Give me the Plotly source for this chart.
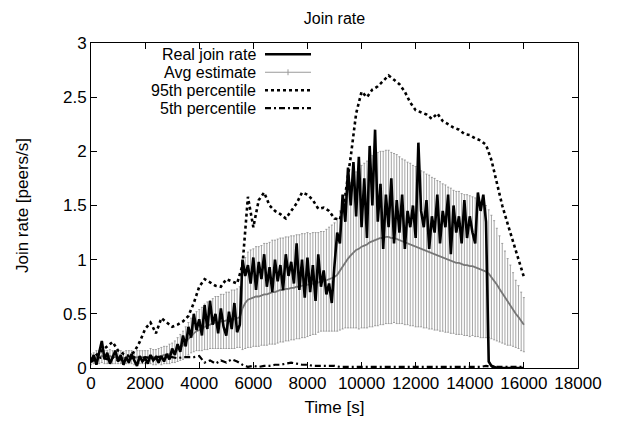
import plotly.graph_objects as go

# ---------------- data ----------------
# Real join rate, sampled every 100 s
real_t = [i * 100 for i in range(161)]
real_v = [
    0.05, 0.12, 0.03, 0.15, 0.25, 0.08, 0.14, 0.04, 0.10, 0.16,
    0.06, 0.12, 0.03, 0.10, 0.05, 0.13, 0.07, 0.02, 0.11, 0.06,
    0.09, 0.04, 0.12, 0.07, 0.10, 0.05, 0.11, 0.06, 0.13, 0.08,
    0.18, 0.12, 0.22, 0.15, 0.30, 0.20, 0.38, 0.28, 0.50, 0.35,
    0.45, 0.30, 0.58, 0.36, 0.62, 0.40, 0.50, 0.32, 0.55, 0.38,
    0.30, 0.52, 0.36, 0.60, 0.33, 0.40, 1.00, 0.85, 0.95, 0.78,
    1.02, 0.72, 0.98, 0.82, 1.05, 0.75, 0.93, 0.70, 1.00, 0.80,
    0.95, 0.72, 1.05, 0.85, 0.98, 0.78, 1.15, 0.72, 1.00, 0.65,
    1.02, 0.70, 0.95, 0.62, 1.05, 0.75, 0.90, 0.68, 0.78, 0.60,
    0.95, 1.25, 1.15, 1.60, 1.35, 1.85, 1.50, 1.90, 1.40, 1.95,
    1.30, 1.75, 1.20, 2.05, 1.50, 2.20, 1.35, 1.70, 1.10, 1.60,
    1.30, 1.75, 1.15, 1.55, 1.25, 1.60, 1.10, 1.45, 1.30, 1.50,
    1.20, 2.08, 1.45, 1.30, 1.55, 1.10, 1.40, 1.25, 1.60, 1.15,
    1.45, 1.30, 1.60, 1.05, 1.50, 1.25, 1.40, 1.15, 1.55, 1.20,
    1.40, 1.25, 1.15, 1.62, 1.45, 1.60, 1.35, 0.06, 0.02, 0.01,
    0.00, 0.00, 0.00, 0.00, 0.00, 0.00, 0.00, 0.00, 0.00, 0.00,
    0.00,
]

# Average estimate and its error half-width, every 100 s
avg_t = [i * 100 for i in range(161)]
avg_v = [
    0.08, 0.09, 0.10, 0.10, 0.11, 0.10, 0.10, 0.11, 0.10, 0.10,
    0.10, 0.10, 0.09, 0.10, 0.10, 0.10, 0.09, 0.10, 0.10, 0.10,
    0.10, 0.10, 0.11, 0.10, 0.10, 0.11, 0.11, 0.12, 0.12, 0.13,
    0.14, 0.15, 0.17, 0.19, 0.21, 0.24, 0.27, 0.30, 0.32, 0.34,
    0.35, 0.36, 0.38, 0.39, 0.40, 0.41, 0.42, 0.42, 0.43, 0.43,
    0.44, 0.44, 0.45, 0.45, 0.46, 0.47, 0.55, 0.60, 0.63, 0.64,
    0.65, 0.66, 0.66, 0.67, 0.68, 0.68, 0.69, 0.70, 0.70, 0.71,
    0.72, 0.72, 0.73, 0.73, 0.74, 0.74, 0.75, 0.75, 0.76, 0.76,
    0.77, 0.77, 0.78, 0.78, 0.79, 0.80, 0.80, 0.81, 0.82, 0.83,
    0.84, 0.86, 0.90, 0.94, 0.98, 1.01, 1.04, 1.07, 1.09, 1.10,
    1.12, 1.13, 1.14, 1.16, 1.17, 1.18, 1.19, 1.20, 1.20, 1.21,
    1.21, 1.20, 1.20, 1.19, 1.18, 1.17, 1.16, 1.15, 1.14, 1.13,
    1.12, 1.11, 1.10, 1.09, 1.08, 1.07, 1.06, 1.05, 1.04, 1.03,
    1.02, 1.01, 1.00, 0.99, 0.98, 0.97, 0.97, 0.96, 0.95, 0.95,
    0.94, 0.94, 0.93, 0.92, 0.91, 0.90, 0.89, 0.87, 0.84, 0.81,
    0.77, 0.73, 0.69, 0.65, 0.61, 0.58, 0.54, 0.50, 0.47, 0.43,
    0.40,
]
avg_err = [
    0.05, 0.05, 0.06, 0.06, 0.06, 0.06, 0.06, 0.06, 0.06, 0.06,
    0.06, 0.06, 0.06, 0.06, 0.06, 0.06, 0.06, 0.06, 0.06, 0.06,
    0.06, 0.06, 0.07, 0.07, 0.07, 0.07, 0.08, 0.08, 0.08, 0.09,
    0.09, 0.10, 0.11, 0.12, 0.13, 0.14, 0.15, 0.16, 0.17, 0.18,
    0.19, 0.20, 0.21, 0.22, 0.22, 0.23, 0.24, 0.24, 0.25, 0.25,
    0.26, 0.26, 0.27, 0.27, 0.27, 0.28, 0.38, 0.42, 0.44, 0.45,
    0.45, 0.46, 0.46, 0.46, 0.47, 0.47, 0.47, 0.48, 0.48, 0.48,
    0.48, 0.48, 0.48, 0.48, 0.48, 0.48, 0.48, 0.48, 0.48, 0.48,
    0.48, 0.47, 0.47, 0.47, 0.46, 0.46, 0.46, 0.47, 0.48, 0.49,
    0.50, 0.52, 0.55, 0.58, 0.61, 0.64, 0.67, 0.70, 0.72, 0.74,
    0.75, 0.76, 0.77, 0.78, 0.79, 0.79, 0.80, 0.80, 0.80, 0.80,
    0.80, 0.79, 0.78, 0.78, 0.77, 0.76, 0.76, 0.75, 0.75, 0.74,
    0.74, 0.73, 0.72, 0.72, 0.71, 0.71, 0.70, 0.70, 0.69, 0.69,
    0.68, 0.68, 0.67, 0.67, 0.66, 0.66, 0.66, 0.65, 0.65, 0.65,
    0.65, 0.64, 0.64, 0.63, 0.63, 0.62, 0.61, 0.59, 0.57, 0.55,
    0.52, 0.49, 0.46, 0.43, 0.40, 0.37, 0.34, 0.31, 0.29, 0.27,
    0.25,
]

# Percentiles, every 200 s
pct_t = [i * 200 for i in range(81)]
p95_v = [
    0.08, 0.12, 0.16, 0.20, 0.24, 0.16, 0.13, 0.11, 0.15, 0.24,
    0.36, 0.42, 0.32, 0.46, 0.42, 0.38, 0.40, 0.43, 0.48, 0.60,
    0.75, 0.82, 0.79, 0.76, 0.75, 0.82, 0.80, 0.78, 0.95, 1.58,
    1.30, 1.55, 1.62, 1.50, 1.45, 1.42, 1.38, 1.45, 1.52, 1.62,
    1.60, 1.55, 1.47, 1.48, 1.45, 1.38, 1.37, 1.60, 1.95, 2.35,
    2.55, 2.50, 2.57, 2.60, 2.65, 2.70, 2.66, 2.62, 2.55, 2.45,
    2.38, 2.36, 2.34, 2.30, 2.35, 2.28, 2.25, 2.22, 2.20, 2.16,
    2.15, 2.12, 2.10, 2.06, 1.92, 1.70, 1.50, 1.33, 1.17, 1.00,
    0.84,
]
p5_v = [
    0.06, 0.08, 0.10, 0.08, 0.10, 0.07, 0.09, 0.08, 0.10, 0.08,
    0.10, 0.09, 0.10, 0.10, 0.10, 0.10, 0.09, 0.10, 0.10, 0.10,
    0.11, 0.05, 0.07, 0.04, 0.07, 0.05, 0.08, 0.06, 0.03, 0.01,
    0.02, 0.01, 0.02, 0.02, 0.03, 0.03, 0.04, 0.05, 0.04, 0.03,
    0.03, 0.02, 0.02, 0.02, 0.02, 0.02, 0.01, 0.01, 0.01, 0.01,
    0.01, 0.01, 0.01, 0.01, 0.01, 0.01, 0.01, 0.01, 0.01, 0.01,
    0.01, 0.01, 0.01, 0.01, 0.01, 0.01, 0.01, 0.01, 0.01, 0.01,
    0.01, 0.01, 0.01, 0.02, 0.01, 0.01, 0.01, 0.01, 0.01, 0.01,
    0.01,
]

x_ticks = list(range(0, 18001, 2000))
x_tick_text = [str(v) for v in x_ticks]
y_ticks = [0, 0.5, 1, 1.5, 2, 2.5, 3]
y_tick_text = ["0", "0.5", "1", "1.5", "2", "2.5", "3"]
legend_names = ["Real join rate", "Avg estimate", "95th percentile", "5th percentile"]

FONT = "Liberation Sans, Arial, Helvetica, sans-serif"
FS = 17

fig = go.Figure()

fig.add_trace(go.Scatter(
    x=avg_t, y=avg_v, mode="lines", name=legend_names[1],
    line=dict(color="#767676", width=1.8),
    error_y=dict(type="data", array=avg_err, visible=True,
                 color="rgba(135,135,135,0.75)", thickness=1, width=1),
    showlegend=False,
))
fig.add_trace(go.Scatter(
    x=real_t, y=real_v, mode="lines", name=legend_names[0],
    line=dict(color="black", width=2.6), showlegend=False,
))
fig.add_trace(go.Scatter(
    x=pct_t, y=p95_v, mode="lines", name=legend_names[2],
    line=dict(color="black", width=2.6, dash="3px,3px"), showlegend=False,
))
fig.add_trace(go.Scatter(
    x=pct_t, y=p5_v, mode="lines", name=legend_names[3],
    line=dict(color="black", width=2.2, dash="6px,3px,2px,3px"), showlegend=False,
))

# The page body adds an 8px offset; the figure is sized so that the plot
# area lands on page pixels x 91..578, y 43..374 as in the reference.
OFF = 8
W, H = 621 - OFF, 425 - OFF
L, R, T, B = 91 - OFF, 43, 43 - OFF, 51
pw, ph = W - L - R, H - T - B
PLOT_LEFT_PAGE = L + OFF
PLOT_BOTTOM_PAGE = T + OFF + ph

def px(xp):
    return (xp - PLOT_LEFT_PAGE) / pw

def py(yp):
    return (PLOT_BOTTOM_PAGE - yp) / ph

rows = [54.5, 72.8, 91.1, 109.4]
styles = [
    dict(color="black", width=2.6),
    dict(color="#9a9a9a", width=1),
    dict(color="black", width=2.6, dash="3px,3px"),
    dict(color="black", width=2.2, dash="6px,3px,2px,3px"),
]
for name, yr, st in zip(legend_names, rows, styles):
    fig.add_annotation(x=px(257), y=py(yr), xref="paper", yref="paper",
                       text=name, showarrow=False, xanchor="right", yanchor="middle",
                       borderpad=0,
                       font=dict(family=FONT, size=16, color="black"))
    fig.add_shape(type="line", xref="paper", yref="paper",
                  x0=px(265), x1=px(311), y0=py(yr), y1=py(yr), line=st)
fig.add_shape(type="line", xref="paper", yref="paper",
              x0=px(288), x1=px(288), y0=py(rows[1] - 3), y1=py(rows[1] + 3),
              line=dict(color="#9a9a9a", width=1))

axis_common = dict(
    showline=True, linecolor="black", linewidth=1, mirror="ticks",
    ticks="inside", ticklen=6, tickcolor="black", tickwidth=1,
    showgrid=False, zeroline=False,
    tickfont=dict(family=FONT, size=FS, color="black"),
)

fig.update_layout(
    width=W, height=H,
    margin=dict(l=L, r=R, t=T, b=B, pad=0),
    paper_bgcolor="white", plot_bgcolor="white",
    title=dict(text="Join rate", x=(L + pw / 2) / W, xanchor="center",
               y=1 - (18 - OFF) / H, yanchor="middle",
               font=dict(family=FONT, size=16, color="black")),
    xaxis=dict(range=[0, 18000], tickvals=x_ticks, ticktext=x_tick_text,
               title=dict(text="Time [s]", standoff=8,
                          font=dict(family=FONT, size=FS, color="black")),
               **axis_common),
    yaxis=dict(range=[0, 3], tickvals=y_ticks, ticktext=y_tick_text,
               title=dict(text="Join rate [peers/s]", standoff=30,
                          font=dict(family=FONT, size=FS, color="black")),
               **axis_common),
    showlegend=False,
)

fig.write_html("out.html")
